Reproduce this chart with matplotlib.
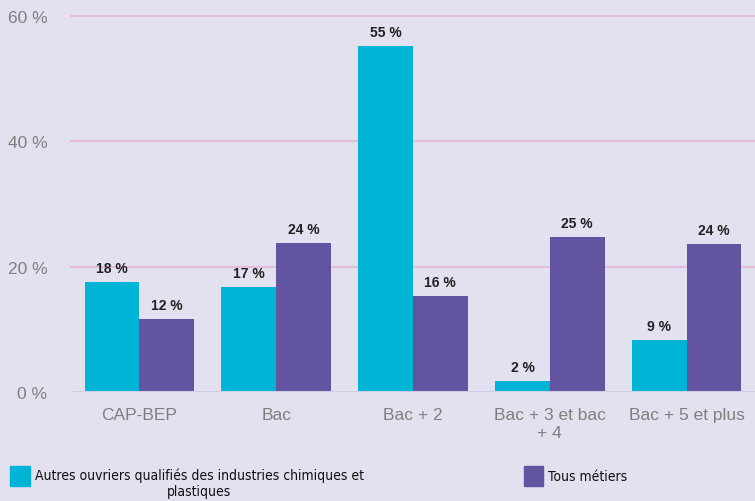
import matplotlib
matplotlib.use("Agg")
import matplotlib.pyplot as plt
from matplotlib.patches import Rectangle
import numpy as np

categories = ["CAP-BEP", "Bac", "Bac + 2", "Bac + 3 et bac\n+ 4", "Bac + 5 et plus"]
series1_name = "Autres ouvriers qualifiés des industries chimiques et\nplastiques"
series2_name = "Tous métiers"
series1 = [17.5, 16.8, 55.2, 1.7, 8.3]
series2 = [11.6, 23.8, 15.3, 24.7, 23.6]
labels1 = ["18 %", "17 %", "55 %", "2 %", "9 %"]
labels2 = ["12 %", "24 %", "16 %", "25 %", "24 %"]
yticks = [0, 20, 40, 60]
ytick_labels = ["0 %", "20 %", "40 %", "60 %"]

bg = "#E3E1F0"
c1 = "#00B4D6"
c2 = "#6254A0"

plt.rcParams["font.family"] = ["Liberation Sans", "DejaVu Sans"]

fig = plt.figure(figsize=(7.55, 5.02), dpi=100, facecolor=bg)
ax = fig.add_axes([71/755, 1-393/502, 684/755, 376/502])
ax.set_facecolor(bg)

x = np.arange(len(categories))
w = 0.4
ax.bar(x - w/2, series1, width=w, color=c1, zorder=3)
ax.bar(x + w/2, series2, width=w, color=c2, zorder=3)

for xi, v, lab in zip(x - w/2, series1, labels1):
    ax.text(xi, v + 1.1, lab, ha="center", va="bottom", fontsize=10, fontweight="bold", color="#222222", zorder=4)
for xi, v, lab in zip(x + w/2, series2, labels2):
    ax.text(xi, v + 1.1, lab, ha="center", va="bottom", fontsize=10, fontweight="bold", color="#222222", zorder=4)

ax.set_xlim(-0.5, len(categories) - 0.5)
ax.set_ylim(0, 60)
ax.set_yticks(yticks)
ax.set_yticklabels(ytick_labels)
for yv in yticks[1:]:
    ax.axhline(yv, color="#E2BEDA", linewidth=1.5, zorder=1, clip_on=False)
ax.axhline(0, color="#CFCDE6", linewidth=1.5, zorder=4)

ax.set_xticks(x)
ax.set_xticklabels(categories, linespacing=1.25)
ax.tick_params(axis="both", length=0, colors="#7F7F7F", labelsize=12.5)
ax.tick_params(axis="x", pad=11)
ax.tick_params(axis="y", pad=17)
for s in ax.spines.values():
    s.set_visible(False)

# legend
fig.patches.append(Rectangle((10/755, 1-487/502), 20/755, 20/502, transform=fig.transFigure, color=c1))
fig.text(199/755, 1-469/502, series1_name, ha="center", va="top", fontsize=10, color="#111111",
         family="DejaVu Sans", fontstretch="condensed", linespacing=1.1)
fig.patches.append(Rectangle((524/755, 1-487/502), 19/755, 20/502, transform=fig.transFigure, color=c2))
fig.text(548/755, 1-477/502, series2_name, ha="left", va="center", fontsize=10, color="#111111",
         family="DejaVu Sans", fontstretch="condensed")

fig.savefig("out.png", dpi=100, facecolor=bg)
